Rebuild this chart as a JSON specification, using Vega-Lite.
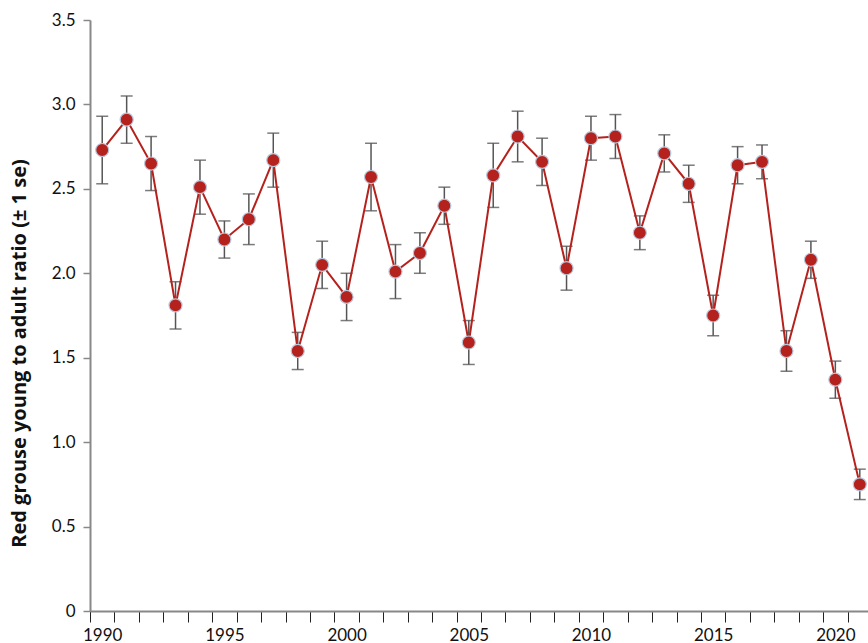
{
  "$schema": "https://vega.github.io/schema/vega-lite/v6.json",
  "autosize": {"type": "none"},
  "padding": {"left": 90, "top": 20, "right": 0, "bottom": 32},
  "width": 782,
  "height": 591,
  "background": "white",
  "config": {
    "view": {"stroke": null},
    "font": "Lato"
  },
  "data": {
    "values": [
      {"year": 1990, "ratio": 2.73, "lo": 2.53, "hi": 2.93},
      {"year": 1991, "ratio": 2.91, "lo": 2.77, "hi": 3.05},
      {"year": 1992, "ratio": 2.65, "lo": 2.49, "hi": 2.81},
      {"year": 1993, "ratio": 1.81, "lo": 1.67, "hi": 1.95},
      {"year": 1994, "ratio": 2.51, "lo": 2.35, "hi": 2.67},
      {"year": 1995, "ratio": 2.20, "lo": 2.09, "hi": 2.31},
      {"year": 1996, "ratio": 2.32, "lo": 2.17, "hi": 2.47},
      {"year": 1997, "ratio": 2.67, "lo": 2.51, "hi": 2.83},
      {"year": 1998, "ratio": 1.54, "lo": 1.43, "hi": 1.65},
      {"year": 1999, "ratio": 2.05, "lo": 1.91, "hi": 2.19},
      {"year": 2000, "ratio": 1.86, "lo": 1.72, "hi": 2.00},
      {"year": 2001, "ratio": 2.57, "lo": 2.37, "hi": 2.77},
      {"year": 2002, "ratio": 2.01, "lo": 1.85, "hi": 2.17},
      {"year": 2003, "ratio": 2.12, "lo": 2.00, "hi": 2.24},
      {"year": 2004, "ratio": 2.40, "lo": 2.29, "hi": 2.51},
      {"year": 2005, "ratio": 1.59, "lo": 1.46, "hi": 1.72},
      {"year": 2006, "ratio": 2.58, "lo": 2.39, "hi": 2.77},
      {"year": 2007, "ratio": 2.81, "lo": 2.66, "hi": 2.96},
      {"year": 2008, "ratio": 2.66, "lo": 2.52, "hi": 2.80},
      {"year": 2009, "ratio": 2.03, "lo": 1.90, "hi": 2.16},
      {"year": 2010, "ratio": 2.80, "lo": 2.67, "hi": 2.93},
      {"year": 2011, "ratio": 2.81, "lo": 2.68, "hi": 2.94},
      {"year": 2012, "ratio": 2.24, "lo": 2.14, "hi": 2.34},
      {"year": 2013, "ratio": 2.71, "lo": 2.60, "hi": 2.82},
      {"year": 2014, "ratio": 2.53, "lo": 2.42, "hi": 2.64},
      {"year": 2015, "ratio": 1.75, "lo": 1.63, "hi": 1.87},
      {"year": 2016, "ratio": 2.64, "lo": 2.53, "hi": 2.75},
      {"year": 2017, "ratio": 2.66, "lo": 2.56, "hi": 2.76},
      {"year": 2018, "ratio": 1.54, "lo": 1.42, "hi": 1.66},
      {"year": 2019, "ratio": 2.08, "lo": 1.97, "hi": 2.19},
      {"year": 2020, "ratio": 1.37, "lo": 1.26, "hi": 1.48},
      {"year": 2021, "ratio": 0.75, "lo": 0.66, "hi": 0.84}
    ]
  },
  "encoding": {
    "x": {
      "field": "year",
      "type": "ordinal",
      "scale": {"type": "band", "paddingInner": 0, "paddingOuter": 0},
      "axis": {
        "title": null,
        "labelAngle": 0,
        "tickBand": "extent",
        "labelExpr": "datum.value % 5 == 0 ? datum.label : ''",
        "labelFontSize": 17,
        "labelColor": "#111",
        "labelPadding": 5,
        "tickSize": 11,
        "tickColor": "#222",
        "tickWidth": 1,
        "domainColor": "#888",
        "domainWidth": 2
      }
    }
  },
  "layer": [
    {
      "mark": {"type": "errorbar", "ticks": {"size": 12, "color": "#444", "strokeWidth": 1.5}, "color": "#555", "thickness": 1.5},
      "encoding": {
        "y": {"field": "lo", "type": "quantitative", "scale": {"domain": [0, 3.5], "nice": false}, "title": "Red grouse young to adult ratio (± 1 se)"},
        "y2": {"field": "hi"}
      }
    },
    {
      "mark": {"type": "line", "color": "#b5221d", "strokeWidth": 2},
      "encoding": {
        "y": {"field": "ratio", "type": "quantitative"}
      }
    },
    {
      "mark": {"type": "point", "filled": true, "size": 170, "fill": "#b5221d", "stroke": "#b8c8dc", "strokeWidth": 1.2, "opacity": 1},
      "encoding": {
        "y": {
          "field": "ratio",
          "type": "quantitative",
          "scale": {"domain": [0, 3.5], "nice": false},
          "axis": {
            "title": "Red grouse young to adult ratio (± 1 se)",
            "titleFont": "Open Sans",
            "titleFontSize": 20,
            "titleFontWeight": "bold",
            "titleColor": "#111",
            "titlePadding": 22,
            "titleY": 333,
            "values": [0, 0.5, 1, 1.5, 2, 2.5, 3, 3.5],
            "labelExpr": "datum.value == 0 ? '0' : format(datum.value, '.1f')",
            "labelFontSize": 17,
            "labelColor": "#111",
            "labelPadding": 8,
            "tickSize": 7,
            "tickColor": "#888",
            "tickWidth": 1.5,
            "domainColor": "#888",
            "domainWidth": 2,
            "grid": false
          }
        }
      }
    }
  ]
}
